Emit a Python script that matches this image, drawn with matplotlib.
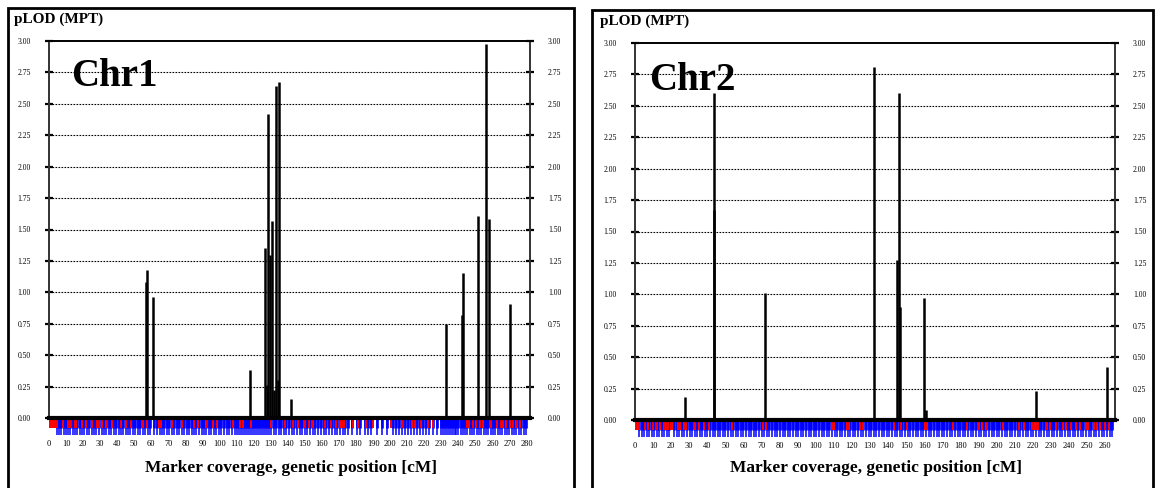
import matplotlib.pyplot as plt
import matplotlib.transforms as mtransforms
from matplotlib.patches import Rectangle

# peaks: position (cM), pLOD
chr1_pos = [56.9, 57.7, 60.9, 118.0, 126.4, 127.7, 128.5, 129.3, 130.9, 131.9, 133.0, 134.0, 134.8,
            141.6, 232.8, 242.0, 242.8, 251.8, 256.3, 257.8, 270.1]
chr1_lod = [1.08, 1.18, 0.96, 0.38, 1.35, 0.26, 2.42, 1.30, 1.57, 0.22, 2.64, 0.30, 2.67,
            0.15, 0.75, 0.82, 1.15, 1.61, 2.98, 1.58, 0.91]

chr2_pos = [27.8, 43.6, 43.9, 71.7, 132.2, 144.7, 145.8, 146.6, 160.0, 160.8, 221.6, 261.0]
chr2_lod = [0.18, 1.67, 2.60, 1.01, 2.81, 1.27, 2.60, 0.90, 0.97, 0.08, 0.23, 0.42]

# marker coverage (cM)
chr1_blue = [4.5, 5.8, 7.1, 8.6, 9.7, 11.2, 12.4, 13.9, 15.3, 16.6, 18.2, 19.5, 20.8, 22.4, 23.7,
             25.1, 26.3, 27.8, 29.4, 30.9, 32.2, 33.6, 35.1, 36.3, 37.9, 39.2, 40.8, 42.1, 43.5,
             44.9, 46.4, 47.7, 49.3, 50.6, 52.0, 53.6, 54.9, 56.2, 57.8, 59.3, 61.7, 63.2, 64.8,
             66.3, 67.5, 69.1, 70.6, 72.0, 73.4, 74.9, 76.5, 77.8, 79.3, 80.7, 82.2, 83.6, 85.1,
             86.4, 87.9, 89.5, 90.8, 92.3, 93.6, 95.2, 96.7, 98.1, 99.4, 100.9, 102.5, 104.2,
             105.6, 107.3, 109.0, 110.2, 111.3, 112.5, 113.6, 114.8, 115.9, 117.1, 118.3, 119.4,
             120.6, 121.8, 122.9, 124.1, 125.2, 126.5, 127.6, 128.8, 130.3, 131.8, 133.2, 134.7,
             136.1, 137.6, 139.2, 140.7, 142.3, 143.8, 145.2, 146.9, 148.4, 149.8, 151.5, 153.1,
             154.7, 156.2, 157.9, 159.5, 161.2, 162.6, 164.3, 166.0, 167.4, 169.1, 170.6, 172.3,
             173.8, 175.4, 177.9, 180.3, 182.1, 185.2, 187.0, 188.9, 192.3, 195.4, 198.1, 201.7,
             203.5, 205.2, 206.9, 208.6, 210.3, 212.0, 213.8, 215.5, 217.3, 219.1, 221.2, 223.0,
             225.4, 227.6, 229.8, 231.2, 232.3, 233.4, 234.5, 235.6, 236.7, 237.8, 238.9, 240.0,
             241.3, 242.6, 243.9, 245.3, 246.6, 248.0, 249.4, 250.7, 252.1, 253.4, 254.8, 256.2,
             257.5, 258.9, 260.3, 261.7, 263.0, 264.4, 265.8, 267.2, 268.5, 269.9, 271.3, 272.7,
             274.0, 275.4, 276.8, 278.2, 279.6]
chr1_red = [0.3, 0.9, 1.5, 2.1, 2.7, 3.3, 3.9, 4.4, 8.2, 11.0, 12.3, 15.1, 16.1, 19.2, 21.4, 25.0,
            28.3, 29.6, 31.0, 33.2, 37.1, 42.3, 45.2, 48.0, 55.4, 57.2, 64.3, 65.6, 72.4, 78.1,
            85.3, 87.2, 92.0, 96.3, 98.4, 108.1, 112.2, 113.5, 118.6, 130.1, 138.4, 143.0, 146.2,
            150.1, 152.3, 155.0, 162.1, 165.1, 168.2, 170.4, 171.8, 173.2, 178.3, 181.0, 186.1,
            190.2, 200.5, 207.0, 213.1, 214.4, 218.2, 222.1, 225.3, 245.0, 246.2, 248.3, 250.1,
            252.4, 254.6, 258.9, 262.4, 265.1, 266.0, 268.2, 270.3, 272.1, 273.8, 276.0]

chr2_blue = [2.3, 3.7, 5.0, 6.4, 7.9, 9.2, 10.6, 12.1, 13.5, 14.8, 16.3, 17.7, 19.0, 21.6, 23.1,
             24.5, 25.8, 27.3, 28.7, 30.2, 31.6, 33.0, 34.4, 35.9, 37.3, 38.6, 40.1, 41.5, 42.9,
             44.4, 45.8, 47.1, 48.6, 50.0, 51.5, 52.9, 54.2, 55.7, 57.1, 58.6, 60.0, 61.4, 62.9,
             64.2, 65.7, 67.1, 68.6, 70.0, 71.5, 72.9, 74.3, 75.8, 77.2, 78.7, 80.1, 81.6, 83.0,
             84.4, 85.9, 87.3, 88.8, 90.2, 91.6, 93.1, 94.5, 96.0, 97.4, 98.9, 100.3, 101.7,
             103.2, 104.6, 106.1, 107.5, 109.0, 110.4, 111.8, 113.3, 114.7, 116.2, 117.6, 119.1,
             120.5, 121.9, 123.4, 124.8, 126.3, 127.7, 129.2, 130.6, 132.0, 133.5, 134.9, 136.4,
             137.8, 139.3, 140.7, 142.1, 143.6, 145.0, 146.5, 147.9, 149.4, 150.8, 152.3, 153.7,
             155.2, 156.6, 158.1, 159.5, 161.0, 162.4, 163.9, 165.3, 166.8, 168.2, 169.7, 171.1,
             172.6, 174.0, 175.5, 176.9, 178.4, 179.8, 181.3, 182.7, 184.2, 185.6, 187.1, 188.5,
             190.0, 191.4, 192.9, 194.3, 195.8, 197.2, 198.7, 200.1, 201.6, 203.0, 204.5, 205.9,
             207.4, 208.8, 210.3, 211.7, 213.2, 214.6, 216.1, 217.5, 219.0, 220.4, 221.9, 223.3,
             224.8, 226.2, 227.7, 229.1, 230.6, 232.0, 233.5, 234.9, 236.4, 237.8, 239.3, 240.7,
             242.2, 243.6, 245.1, 246.5, 248.0, 249.4, 250.9, 252.3, 253.8, 255.2, 256.7, 258.1,
             259.6, 261.0, 262.5, 263.9]
chr2_red = [0.4, 1.2, 2.0, 5.6, 7.1, 9.8, 12.2, 14.0, 16.1, 17.2, 18.4, 19.8, 20.6, 24.0, 25.1,
            27.0, 28.0, 33.4, 35.2, 38.2, 41.0, 53.7, 71.0, 72.3, 109.2, 110.0, 117.1, 118.5,
            124.2, 126.3, 143.1, 147.0, 150.2, 160.2, 161.5, 176.0, 183.4, 190.1, 192.0, 194.2,
            203.8, 212.5, 215.0, 219.4, 220.8, 222.0, 223.0, 228.1, 229.5, 233.0, 236.8, 238.2,
            241.2, 244.1, 246.0, 249.5, 250.6, 254.1, 255.3, 257.3, 260.1, 262.2]

yticks = [0.0, 0.25, 0.5, 0.75, 1.0, 1.25, 1.5, 1.75, 2.0, 2.25, 2.5, 2.75, 3.0]
ytick_labels = ["0.00", "0.25", "0.50", "0.75", "1.00", "1.25", "1.50", "1.75", "2.00", "2.25",
                "2.50", "2.75", "3.00"]

W, H = 1156, 488
fig = plt.figure(figsize=(W / 100, H / 100), dpi=100)
serif = ["Liberation Serif", "DejaVu Serif"]


def panel(rect, xmax, xticks, pos, lod, blue, red, name, frame, title_xy, name_xy, xlabel_x):
    ax = fig.add_axes(rect)
    ax.set_xlim(0, xmax)
    ax.set_ylim(0, 3.0)
    for y in yticks[1:-1]:
        ax.axhline(y, color="black", lw=0.8, ls=(0, (1.5, 1.2)), zorder=1)
    ax.vlines(pos, 0, lod, color="black", lw=1.8, zorder=3)

    trans = mtransforms.blended_transform_factory(ax.transData, ax.transAxes)
    ax.vlines(blue, -0.046, 0, color="#0000ff", lw=1.1, transform=trans, clip_on=False)
    ax.vlines(blue, -0.027, 0, color="#0000ff", lw=1.9, transform=trans, clip_on=False)
    ax.vlines(red, -0.027, 0, color="#ff0000", lw=1.4, transform=trans, clip_on=False)

    ax.set_xticks(xticks)
    ax.set_xticklabels([str(t) for t in xticks], fontsize=6, family=serif)
    ax.tick_params(axis="x", length=0, pad=16)
    ax.set_yticks(yticks)
    ax.set_yticklabels(ytick_labels, fontsize=5.5, family=serif)
    ax.tick_params(axis="y", direction="inout", length=6, width=1.6, pad=10,
                   left=True, right=True, labelleft=True, labelright=True)
    for s in ["left", "right"]:
        ax.spines[s].set_linewidth(1.4)
        ax.spines[s].set_color("#333333")
    ax.spines["top"].set_linewidth(1.4)
    ax.spines["bottom"].set_linewidth(3)
    ax.spines["bottom"].set_zorder(5)

    fig.text(name_xy[0] / W, 1 - name_xy[1] / H, name, fontsize=28, fontweight="bold",
             family=serif, va="center", ha="left")
    fig.text(title_xy[0] / W, 1 - title_xy[1] / H, "pLOD (MPT)", fontsize=11,
             fontweight="bold", family=serif, va="center", ha="left")
    fig.text(xlabel_x / W, 1 - 468 / H, "Marker coverage, genetic position [cM]", fontsize=12.5,
             fontweight="bold", family=serif, va="center", ha="center")
    x0, y0, x1 = frame
    fig.patches.append(Rectangle((x0 / W, -0.1), (x1 - x0) / W, 1.1 - y0 / H,
                                 transform=fig.transFigure, fill=False, ec="black", lw=2))
    return ax


panel([49 / W, 1 - 418 / H, 481 / W, 377 / H], 282, list(range(0, 281, 10)),
      chr1_pos, chr1_lod, chr1_blue, chr1_red, "Chr1", (8, 8, 574), (14, 19), (71, 77), 291)
panel([635 / W, 1 - 420 / H, 480 / W, 377 / H], 265.5, list(range(0, 261, 10)),
      chr2_pos, chr2_lod, chr2_blue, chr2_red, "Chr2", (592, 10, 1153), (600, 21), (649, 80), 876)

fig.savefig("out.png", dpi=100)
